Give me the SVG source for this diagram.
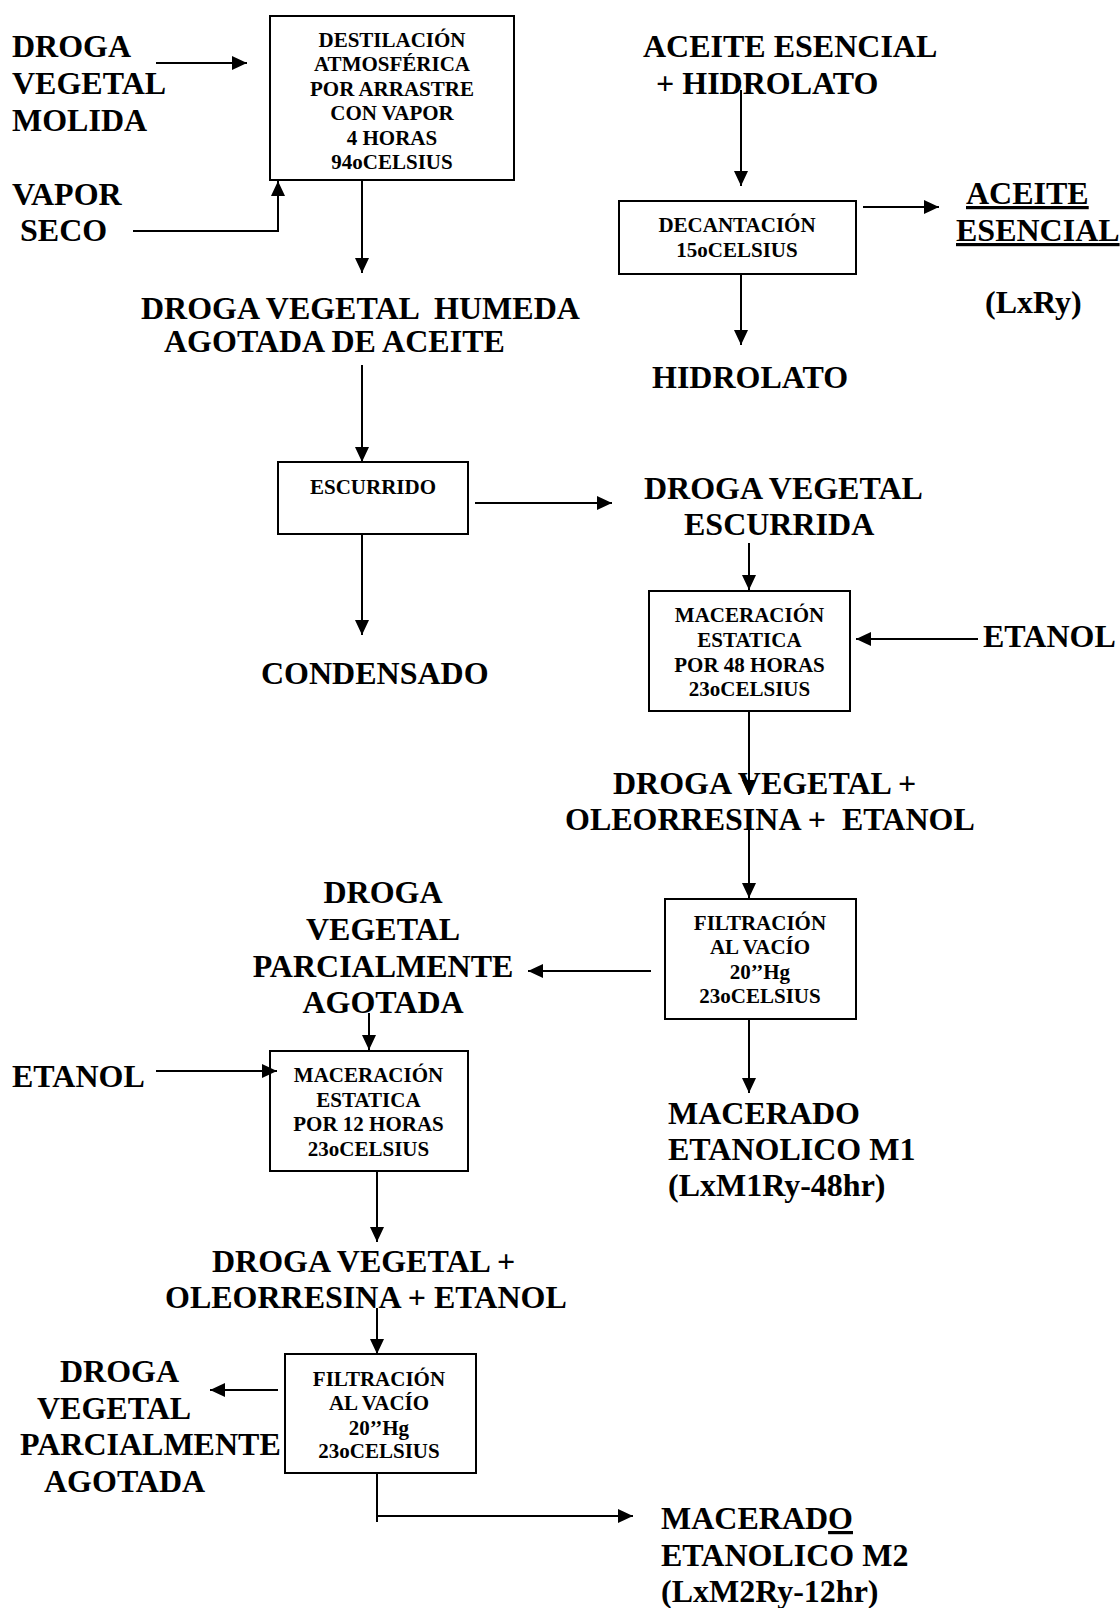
<svg xmlns="http://www.w3.org/2000/svg" width="1120" height="1608" viewBox="0 0 1120 1608">
<style>
text{font-family:"Liberation Serif","Times New Roman",serif;font-weight:bold;fill:#000;white-space:pre}
.big{font-size:32px}
.sm{font-size:21px;text-anchor:middle}
.box{fill:#fff;stroke:#000;stroke-width:2}
.ln{fill:none;stroke:#000;stroke-width:2}
.u{text-decoration:underline}
</style>
<defs>
<marker id="ah" markerUnits="userSpaceOnUse" markerWidth="16" markerHeight="16" refX="15" refY="7" orient="auto">
<path d="M0,0 L15,7 L0,14 Z" fill="#000"/>
</marker>
</defs>
<rect width="1120" height="1608" fill="#fff"/>

<g id="in-droga"><text class="big" x="12" y="57">DROGA</text><text class="big" x="12" y="94">VEGETAL</text><text class="big" x="12" y="131">MOLIDA</text></g>
<g id="in-vapor"><text class="big" x="12" y="205">VAPOR</text><text class="big" x="20" y="241">SECO</text></g>
<g id="destilacion"><rect class="box" x="270" y="16" width="244" height="164"/>
<text class="sm" x="392" y="47">DESTILACIÓN</text><text class="sm" x="392" y="71">ATMOSFÉRICA</text><text class="sm" x="392" y="96">POR ARRASTRE</text><text class="sm" x="392" y="120">CON VAPOR</text><text class="sm" x="392" y="145">4 HORAS</text><text class="sm" x="392" y="169">94oCELSIUS</text></g>
<g id="droga-humeda"><text class="big" x="141" y="319">DROGA VEGETAL  HUMEDA</text><text class="big" x="164" y="352">AGOTADA DE ACEITE</text></g>
<g id="escurrido"><rect class="box" x="278" y="462" width="190" height="72"/><text class="sm" x="373" y="494">ESCURRIDO</text></g>
<g id="condensado"><text class="big" x="261" y="684">CONDENSADO</text></g>

<g id="aceite-hidrolato"><text class="big" x="643" y="57">ACEITE ESENCIAL</text><text class="big" x="656" y="94">+ HIDROLATO</text></g>
<g id="decantacion"><rect class="box" x="619" y="201" width="237" height="73"/><text class="sm" x="737" y="232">DECANTACIÓN</text><text class="sm" x="737" y="257">15oCELSIUS</text></g>
<g id="aceite-esencial"><text class="big u" x="966" y="204">ACEITE</text><text class="big u" x="956" y="241">ESENCIAL</text><text class="big" x="985" y="313">(LxRy)</text></g>
<g id="hidrolato"><text class="big" x="652" y="388">HIDROLATO</text></g>

<g id="droga-escurrida"><text class="big" x="644" y="499">DROGA VEGETAL</text><text class="big" x="684" y="535">ESCURRIDA</text></g>
<g id="maceracion48"><rect class="box" x="649" y="591" width="201" height="120"/>
<text class="sm" x="749.5" y="622">MACERACIÓN</text><text class="sm" x="749.5" y="647">ESTATICA</text><text class="sm" x="749.5" y="672">POR 48 HORAS</text><text class="sm" x="749.5" y="696">23oCELSIUS</text></g>
<g id="etanol1"><text class="big" x="983" y="647">ETANOL</text></g>
<g id="mezcla1"><text class="big" x="613" y="794">DROGA VEGETAL +</text><text class="big" x="565" y="830">OLEORRESINA +  ETANOL</text></g>
<g id="filtracion1"><rect class="box" x="665" y="899" width="191" height="120"/>
<text class="sm" x="760" y="930">FILTRACIÓN</text><text class="sm" x="760" y="954">AL VACÍO</text><text class="sm" x="760" y="979">20’’Hg</text><text class="sm" x="760" y="1003">23oCELSIUS</text></g>
<g id="parcial1"><text class="big" x="383" y="903" text-anchor="middle">DROGA</text><text class="big" x="383" y="940" text-anchor="middle">VEGETAL</text><text class="big" x="383" y="977" text-anchor="middle">PARCIALMENTE</text><text class="big" x="383" y="1013" text-anchor="middle">AGOTADA</text></g>
<g id="macerado-m1"><text class="big" x="668" y="1124">MACERADO</text><text class="big" x="668" y="1160">ETANOLICO M1</text><text class="big" x="668" y="1196">(LxM1Ry-48hr)</text></g>

<g id="etanol2"><text class="big" x="12" y="1087">ETANOL</text></g>
<g id="maceracion12"><rect class="box" x="270" y="1051" width="198" height="120"/>
<text class="sm" x="368.5" y="1082">MACERACIÓN</text><text class="sm" x="368.5" y="1107">ESTATICA</text><text class="sm" x="368.5" y="1131">POR 12 HORAS</text><text class="sm" x="368.5" y="1156">23oCELSIUS</text></g>
<g id="mezcla2"><text class="big" x="212" y="1272">DROGA VEGETAL +</text><text class="big" x="165" y="1308">OLEORRESINA + ETANOL</text></g>
<g id="filtracion2"><rect class="box" x="285" y="1354" width="191" height="119"/>
<text class="sm" x="379" y="1386">FILTRACIÓN</text><text class="sm" x="379" y="1410">AL VACÍO</text><text class="sm" x="379" y="1435">20’’Hg</text><text class="sm" x="379" y="1458">23oCELSIUS</text></g>
<g id="parcial2"><text class="big" x="60" y="1382">DROGA</text><text class="big" x="37" y="1419">VEGETAL</text><text class="big" x="20" y="1455">PARCIALMENTE</text><text class="big" x="44" y="1492">AGOTADA</text></g>
<g id="macerado-m2"><text class="big" x="661" y="1529">MACERAD<tspan class="u">O</tspan></text><text class="big" x="661" y="1566">ETANOLICO M2</text><text class="big" x="661" y="1602">(LxM2Ry-12hr)</text></g>

<g id="connectors">
<line class="ln" x1="156" y1="63" x2="247" y2="63" marker-end="url(#ah)"/>
<polyline class="ln" points="133,231 278,231 278,181" marker-end="url(#ah)"/>
<line class="ln" x1="362" y1="180" x2="362" y2="273" marker-end="url(#ah)"/>
<line class="ln" x1="362" y1="365" x2="362" y2="462" marker-end="url(#ah)"/>
<line class="ln" x1="475" y1="503" x2="612" y2="503" marker-end="url(#ah)"/>
<line class="ln" x1="362" y1="534" x2="362" y2="635" marker-end="url(#ah)"/>
<line class="ln" x1="741" y1="90" x2="741" y2="186" marker-end="url(#ah)"/>
<line class="ln" x1="863" y1="207" x2="939" y2="207" marker-end="url(#ah)"/>
<line class="ln" x1="741" y1="274" x2="741" y2="345" marker-end="url(#ah)"/>
<line class="ln" x1="749" y1="543" x2="749" y2="590" marker-end="url(#ah)"/>
<line class="ln" x1="978" y1="639" x2="856" y2="639" marker-end="url(#ah)"/>
<line class="ln" x1="749" y1="711" x2="749" y2="795" marker-end="url(#ah)"/>
<line class="ln" x1="749" y1="825" x2="749" y2="898" marker-end="url(#ah)"/>
<line class="ln" x1="651" y1="971" x2="528" y2="971" marker-end="url(#ah)"/>
<line class="ln" x1="749" y1="1019" x2="749" y2="1093" marker-end="url(#ah)"/>
<line class="ln" x1="369" y1="1013" x2="369" y2="1050" marker-end="url(#ah)"/>
<line class="ln" x1="156" y1="1071" x2="277" y2="1071" marker-end="url(#ah)"/>
<line class="ln" x1="377" y1="1171" x2="377" y2="1242" marker-end="url(#ah)"/>
<line class="ln" x1="377" y1="1308" x2="377" y2="1354" marker-end="url(#ah)"/>
<line class="ln" x1="278" y1="1390" x2="210" y2="1390" marker-end="url(#ah)"/>
<line class="ln" x1="377" y1="1473" x2="377" y2="1522"/>
<line class="ln" x1="377" y1="1516" x2="633" y2="1516" marker-end="url(#ah)"/>
</g>
</svg>
